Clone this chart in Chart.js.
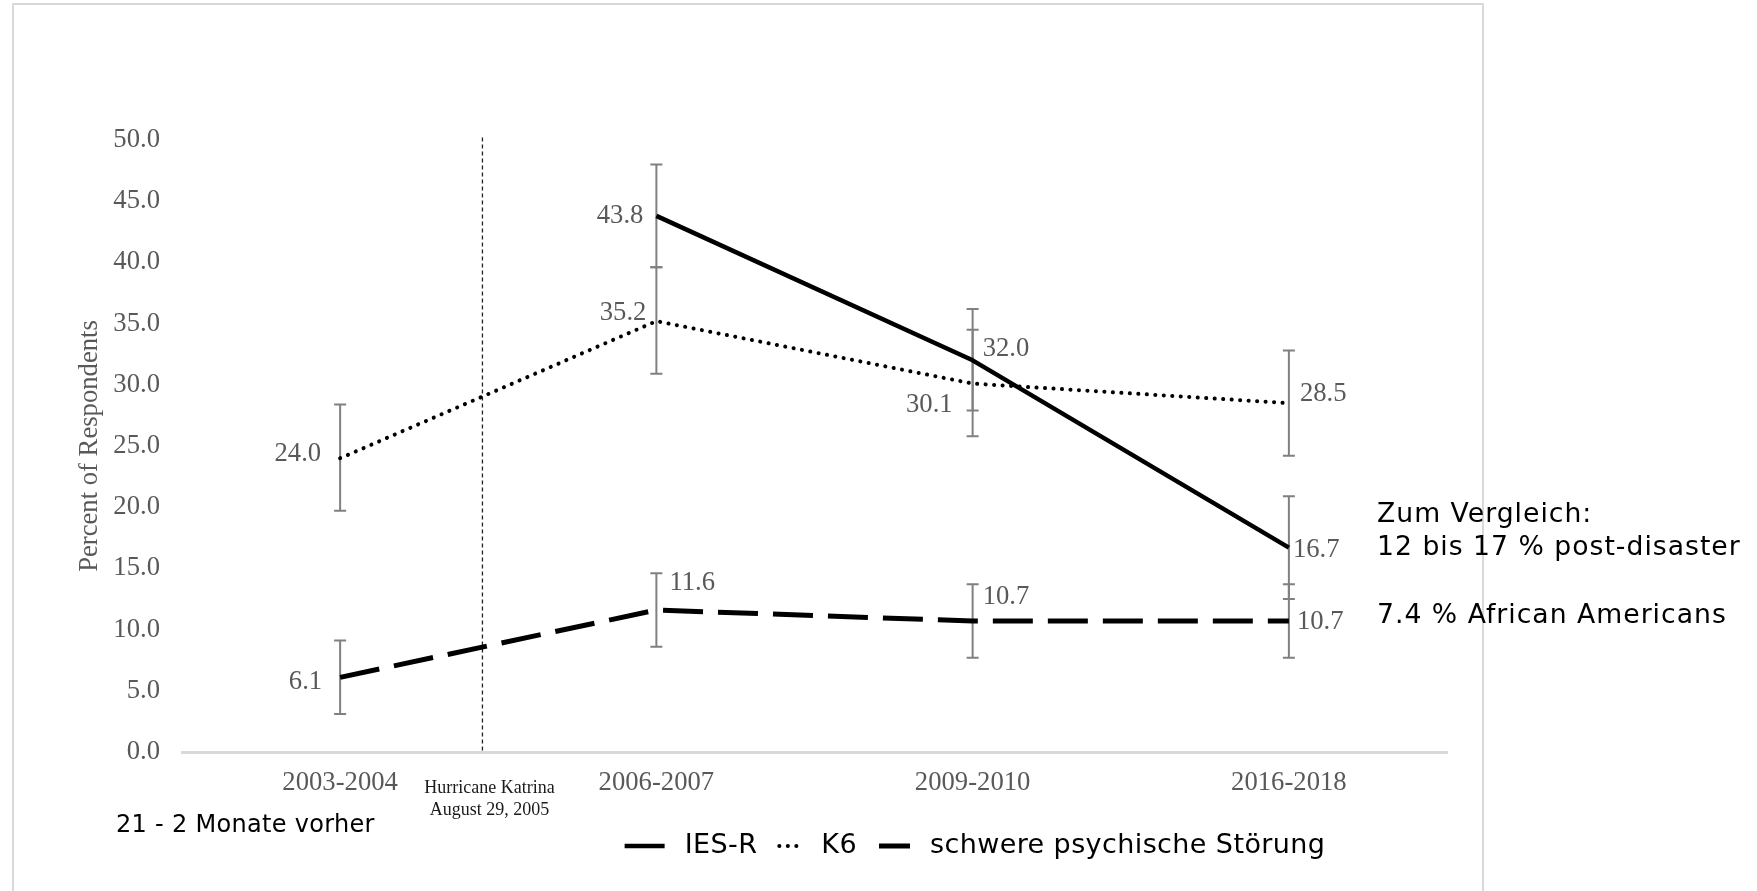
<!DOCTYPE html>
<html>
<head>
<meta charset="utf-8">
<title>Katrina – psychische Belastung</title>
<script src="https://cdn.jsdelivr.net/npm/chart.js@4.4.1/dist/chart.umd.min.js"></script>
<style>
  html, body { margin: 0; padding: 0; background: #fff; overflow: hidden; }
  #wrap { position: relative; width: 1757px; height: 891px; }
  #frame { position: absolute; left: 12px; top: 3px; width: 1472px; height: 1000px; border: 2px solid #d9d9d9; box-sizing: border-box; }
  #chart { position: absolute; left: 0; top: 0; }
</style>
</head>
<body>
<div id="wrap">
  <div id="frame"></div>
  <canvas id="chart" width="1757" height="891"></canvas>
</div>
<script>
// Erhebungswellen
const categories = ["2003-2004", "2006-2007", "2009-2010", "2016-2018"];
const seriesNames = ["IES-R", "K6", "schwere psychische Störung"];

// IES-R wurde vor dem Sturm nicht erhoben
const iesR     = [null, 43.8, 32.0, 16.7];
const iesRLow  = [null, 39.6, 27.9, 12.5];
const iesRHigh = [null, 48.0, 36.2, 20.9];

const k6     = [24.0, 35.2, 30.1, 28.5];
const k6Low  = [19.7, 30.9, 25.8, 24.2];
const k6High = [28.4, 39.6, 34.5, 32.8];

const spd     = [6.1, 11.6, 10.7, 10.7];
const spdLow  = [3.1, 8.6, 7.7, 7.7];
const spdHigh = [9.1, 14.6, 13.7, 13.7];

const yMin = 0, yMax = 50, yStep = 5;

// Katrina liegt zwischen der ersten und zweiten Welle
const katrinaPos = 0.45;
const katrinaTop = 50.2;
const katrinaText = ["Hurricane Katrina", "August 29, 2005"];

const notes = ["Zum Vergleich:", "12 bis 17 % post-disaster", "7.4 % African Americans"];
const preNote = "21 - 2 Monate vorher";

const bands = [[iesRLow, iesRHigh], [k6Low, k6High], [spdLow, spdHigh]];

// wo die Werte neben den Punkten stehen: [Seite, dx, dy]
const labelPlace = [
  [null, ["left", -13, 0], ["right", 10, -11], ["right", 4, 2]],
  [["left", -19, -4], ["left", -10, -8], ["left", -20, 21], ["right", 11, -9]],
  [["left", -18, 5], ["right", 13, -27], ["right", 10, -24], ["right", 8, 1]]
];

const serif = "'Liberation Serif', 'Times New Roman', serif";
const sans = "'DejaVu Sans', Verdana, sans-serif";
const gray = "#595959";

// Fehlerbalken hinter den Linien
const errorBars = {
  id: "errorBars",
  beforeDatasetsDraw(chart) {
    const ctx = chart.ctx, xs = chart.scales.x, ys = chart.scales.y;
    ctx.save();
    ctx.strokeStyle = "#808080";
    ctx.lineWidth = 2;
    bands.forEach(([lo, hi]) => {
      lo.forEach((v, i) => {
        if (v == null) return;
        const px = xs.getPixelForValue(i);
        const y1 = ys.getPixelForValue(v), y2 = ys.getPixelForValue(hi[i]);
        ctx.beginPath();
        ctx.moveTo(px, y1); ctx.lineTo(px, y2);
        ctx.moveTo(px - 6, y1); ctx.lineTo(px + 6, y1);
        ctx.moveTo(px - 6, y2); ctx.lineTo(px + 6, y2);
        ctx.stroke();
      });
    });
    ctx.restore();
  }
};

// gestrichelte Linie für Hurricane Katrina
const katrina = {
  id: "katrina",
  beforeDatasetsDraw(chart) {
    const ctx = chart.ctx, xs = chart.scales.x, ys = chart.scales.y;
    const px = xs.getPixelForValue(katrinaPos);
    ctx.save();
    ctx.strokeStyle = "#222";
    ctx.lineWidth = 1.3;
    ctx.setLineDash([4, 3]);
    ctx.beginPath();
    ctx.moveTo(px, ys.getPixelForValue(katrinaTop));
    ctx.lineTo(px, ys.getPixelForValue(0));
    ctx.stroke();
    ctx.setLineDash([]);
    ctx.fillStyle = "#1a1a1a";
    ctx.font = "18px " + serif;
    ctx.textAlign = "center";
    ctx.textBaseline = "middle";
    const base = ys.getPixelForValue(0);
    ctx.fillText(katrinaText[0], px + 7, base + 36);
    ctx.fillText(katrinaText[1], px + 7, base + 58);
    ctx.restore();
  }
};

// Zahlenwerte an den Punkten
const valueLabels = {
  id: "valueLabels",
  afterDatasetsDraw(chart) {
    const ctx = chart.ctx;
    ctx.save();
    ctx.font = "26.67px " + serif;
    ctx.fillStyle = gray;
    ctx.textBaseline = "middle";
    chart.data.datasets.forEach((ds, d) => {
      const meta = chart.getDatasetMeta(d);
      ds.data.forEach((v, i) => {
        const place = labelPlace[d][i];
        if (v == null || !place) return;
        const pt = meta.data[i];
        ctx.textAlign = place[0] === "left" ? "right" : "left";
        ctx.fillText(v.toFixed(1), pt.x + place[1], pt.y + place[2]);
      });
    });
    ctx.restore();
  }
};

// Legende unten und Vergleichswerte rechts
const extras = {
  id: "extras",
  afterDraw(chart) {
    const ctx = chart.ctx;
    ctx.save();
    ctx.fillStyle = "#000";
    ctx.textBaseline = "middle";
    ctx.textAlign = "left";

    ctx.font = "27px " + sans;
    ctx.letterSpacing = "0.4px";
    const sampleW = [40, 22, 31];
    let total = 0;
    seriesNames.forEach((name, i) => {
      total += sampleW[i] + 20 + ctx.measureText(name).width;
      if (i < seriesNames.length - 1) total += 22;
    });
    let x = 975 - total / 2;
    const ly = 846;
    chart.data.datasets.forEach((ds, i) => {
      ctx.beginPath();
      ctx.strokeStyle = ds.borderColor;
      ctx.lineWidth = ds.borderWidth;
      ctx.lineCap = ds.borderCapStyle || "butt";
      ctx.setLineDash(ds.borderDash || []);
      ctx.moveTo(x, ly);
      ctx.lineTo(x + sampleW[i], ly);
      ctx.stroke();
      ctx.setLineDash([]);
      x += sampleW[i] + 20;
      ctx.fillText(seriesNames[i], x, ly);
      x += ctx.measureText(seriesNames[i]).width + 22;
    });

    ctx.font = "26.67px " + sans;
    ctx.letterSpacing = "1px";
    ctx.fillText(notes[0], 1377, 515);
    ctx.fillText(notes[1], 1377, 548);
    ctx.fillText(notes[2], 1377, 616);

    ctx.font = "24px " + sans;
    ctx.letterSpacing = "0.3px";
    ctx.fillText(preNote, 116, 826);
    ctx.restore();
  }
};

new Chart(document.getElementById("chart"), {
  type: "line",
  data: {
    labels: categories,
    datasets: [
      {
        label: seriesNames[0],
        data: iesR,
        borderColor: "#000",
        borderWidth: 4.5,
        borderJoinStyle: "round"
      },
      {
        label: seriesNames[1],
        data: k6,
        borderColor: "#000",
        borderWidth: 4,
        borderDash: [0.1, 8.4],
        borderCapStyle: "round"
      },
      {
        label: seriesNames[2],
        data: spd,
        borderColor: "#000",
        borderWidth: 5,
        borderDash: [40, 15]
      }
    ]
  },
  options: {
    responsive: false,
    animation: false,
    devicePixelRatio: 1,
    layout: { padding: { left: 0, right: 310, top: 140, bottom: 0 } },
    elements: { point: { radius: 0 }, line: { tension: 0, fill: false } },
    plugins: { legend: { display: false }, tooltip: { enabled: false } },
    scales: {
      x: {
        type: "category",
        offset: true,
        grid: { display: false, drawTicks: false },
        border: { color: "#d9d9d9", width: 3 },
        ticks: {
          color: gray,
          font: { family: serif, size: 26.67 },
          padding: 15,
          maxRotation: 0,
          autoSkip: false
        },
        afterFit(scale) { scale.height = 139; }
      },
      y: {
        min: yMin,
        max: yMax,
        grid: { display: false, drawTicks: false },
        border: { display: false },
        ticks: {
          stepSize: yStep,
          color: gray,
          font: { family: serif, size: 26.67 },
          padding: 22,
          autoSkip: false,
          callback: v => v.toFixed(1)
        },
        title: {
          display: true,
          text: "Percent of Respondents",
          color: gray,
          font: { family: serif, size: 26.67 },
          padding: { top: 74, bottom: 0 }
        },
        afterFit(scale) { scale.width = 182; }
      }
    }
  },
  plugins: [errorBars, katrina, valueLabels, extras]
});
</script>
</body>
</html>
